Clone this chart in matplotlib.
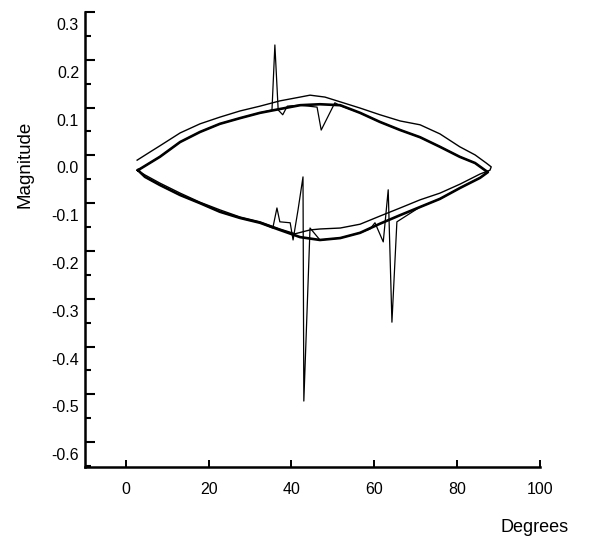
import matplotlib.pyplot as plt
from matplotlib.ticker import MultipleLocator
from matplotlib.transforms import ScaledTranslation

plt.rcParams['font.family'] = ['Liberation Sans', 'DejaVu Sans']

# thin outer loop: upper arc left -> right, then lower arc right -> left
outer_deg = [2.7, 5.8, 8.2, 13.1, 17.9, 22.7, 27.6, 32.4, 37.2, 42.1, 44.5, 48.1,
             51.8, 56.6, 61.4, 66.3, 71.1, 75.9, 80.7, 84.4, 87.1, 88.3,
             88.0, 85.6, 80.8, 75.9, 71.1, 66.3, 61.4, 56.6, 51.8, 46.9, 44.5,
             40.9, 37.2, 32.4, 27.6, 22.7, 17.9, 13.1, 8.2, 4.6, 3.1]
outer_mag = [-0.010, 0.007, 0.020, 0.047, 0.066, 0.080, 0.093, 0.103, 0.114, 0.122, 0.126, 0.122,
             0.112, 0.099, 0.085, 0.072, 0.064, 0.045, 0.018, 0.001, -0.016, -0.024,
             -0.031, -0.039, -0.060, -0.079, -0.093, -0.110, -0.127, -0.144, -0.152, -0.154, -0.156,
             -0.164, -0.154, -0.139, -0.129, -0.114, -0.098, -0.079, -0.058, -0.041, -0.033]

# thick smooth loop
smooth_deg = [2.9, 8.2, 13.1, 17.9, 22.7, 27.6, 32.4, 37.2, 42.1, 46.9, 51.8, 56.6,
              61.4, 66.3, 71.1, 75.9, 80.7, 84.4, 86.8,
              87.5, 85.6, 80.8, 75.9, 71.1, 66.3, 61.4, 56.6, 51.8, 46.9, 42.1,
              37.2, 32.4, 27.6, 22.7, 17.9, 13.1, 8.2, 4.6, 2.9]
smooth_mag = [-0.031, -0.003, 0.028, 0.049, 0.066, 0.078, 0.089, 0.097, 0.105, 0.107, 0.105, 0.089,
              0.070, 0.053, 0.038, 0.018, -0.003, -0.016, -0.031,
              -0.035, -0.047, -0.068, -0.091, -0.108, -0.125, -0.143, -0.162, -0.173, -0.177, -0.171,
              -0.156, -0.141, -0.131, -0.118, -0.100, -0.083, -0.062, -0.045, -0.031]

# thin loop with spikes
spiky_deg = [2.9, 8.2, 13.1, 17.9, 22.7, 27.6, 32.4, 35.3, 36.0, 36.8, 37.9, 39.0,
             42.1, 46.2, 47.2, 50.5, 51.8, 56.6, 61.4, 66.3, 71.1, 75.9, 80.7, 84.4, 86.8,
             87.5, 85.6, 80.8, 75.9, 71.1, 65.5, 64.3, 63.4, 62.2, 60.2, 59.0, 56.6,
             51.8, 46.9, 44.5, 43.0, 42.8, 41.6, 40.4, 39.7, 37.2, 36.5, 35.5,
             32.4, 27.6, 22.7, 17.9, 13.1, 8.2, 4.6, 2.9]
spiky_mag = [-0.031, -0.003, 0.028, 0.049, 0.066, 0.078, 0.089, 0.095, 0.231, 0.095, 0.085, 0.103,
             0.105, 0.101, 0.053, 0.110, 0.104, 0.089, 0.070, 0.053, 0.038, 0.018, -0.003, -0.016, -0.031,
             -0.035, -0.047, -0.068, -0.091, -0.108, -0.139, -0.349, -0.072, -0.181, -0.141, -0.154, -0.162,
             -0.173, -0.177, -0.152, -0.514, -0.045, -0.114, -0.177, -0.141, -0.139, -0.110, -0.152,
             -0.141, -0.131, -0.118, -0.100, -0.083, -0.062, -0.045, -0.031]

x_ticks = [0, 20, 40, 60, 80, 100]
y_ticks = [0.3, 0.2, 0.1, 0.0, -0.1, -0.2, -0.3, -0.4, -0.5, -0.6]
y_tick_labels = ['0.3', '0.2', '0.1', '0.0', '-0.1', '-0.2', '-0.3', '-0.4', '-0.5', '-0.6']


def draw(ax):
    ax.plot(outer_deg, outer_mag, color='black', lw=1.0)
    ax.plot(smooth_deg, smooth_mag, color='black', lw=1.9)
    ax.plot(spiky_deg, spiky_mag, color='black', lw=0.9)


def style(fig, ax):
    ax.set_xlim(-10, 100)
    ax.set_ylim(-0.652, 0.3)
    for side in ['top', 'right']:
        ax.spines[side].set_visible(False)
    for side in ['left', 'bottom']:
        ax.spines[side].set_linewidth(1.8)

    ax.set_xticks(x_ticks)
    ax.set_xticklabels([str(t) for t in x_ticks])
    ax.set_yticks(y_ticks)
    ax.set_yticklabels(y_tick_labels)
    ax.yaxis.set_minor_locator(MultipleLocator(0.05))

    ax.tick_params(axis='x', direction='in', length=5, width=1.4, pad=11, labelsize=11.5)
    ax.tick_params(axis='y', which='major', direction='in', length=7.5, width=1.5, pad=4, labelsize=11.5)
    ax.tick_params(axis='y', which='minor', direction='in', length=4.5, width=1.5)

    # the scanned labels sit about 12 px below their tick marks
    shift = ScaledTranslation(0, -0.12, fig.dpi_scale_trans)
    for lab in ax.get_yticklabels():
        lab.set_transform(lab.get_transform() + shift)

    fig.text(25 / 600, 1 - 164 / 537, 'Magnitude', rotation=90, ha='center', va='center', fontsize=13.5)
    fig.text(535 / 600, 1 - 527 / 537, 'Degrees', ha='center', va='center', fontsize=13)


def main():
    fig = plt.figure(figsize=(6, 5.37), dpi=100)
    ax = fig.add_axes([84.6 / 600, 70 / 537, 455 / 600, 455 / 537])
    draw(ax)
    style(fig, ax)
    fig.savefig('out.png', dpi=100)
    plt.close(fig)


if __name__ == "__main__":
    main()
